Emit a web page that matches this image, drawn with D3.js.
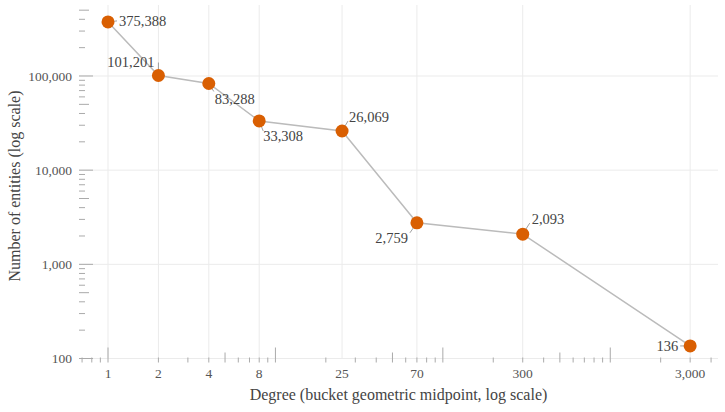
<!DOCTYPE html>
<html>
<head>
<meta charset="utf-8">
<script src="https://cdn.jsdelivr.net/npm/d3@7"></script>
<style>
  html, body { margin: 0; padding: 0; background: #fff; }
  svg { display: block; font-family: "Liberation Serif", "DejaVu Serif", serif; }
</style>
</head>
<body>
<svg id="chart" width="725" height="412"></svg>
<script>
// ---- data ----
const degrees = [1, 2, 4, 8, 25, 70, 300, 3000];
const entityCounts = [375388, 101201, 83288, 33308, 26069, 2759, 2093, 136];
const xTickValues = [1, 2, 4, 8, 25, 70, 300, 3000];
const yTickValues = [100, 1000, 10000, 100000];

// label placement hints (style): leader end offset, label offset, anchor
const labelStyle = [
  { lx: 9,  ly: -1,  dx: 11, dy: -1,  anchor: "start" },
  { lx: 0,  ly: -13, dx: -4, dy: -14, anchor: "end" },
  { lx: 5,  ly: 8,   dx: 6,  dy: 15,  anchor: "start" },
  { lx: 4,  ly: 10,  dx: 4,  dy: 15,  anchor: "start" },
  { lx: 6,  ly: -10, dx: 7,  dy: -14, anchor: "start" },
  { lx: -7, ly: 10,  dx: -9, dy: 15,  anchor: "end" },
  { lx: 7,  ly: -11, dx: 9,  dy: -15, anchor: "start" },
  { lx: -10, ly: 0,  dx: -12, dy: 0,  anchor: "end" }
];

(function () {
const svg = d3.select("#chart");
const pLeft = 79, pRight = 718, pTop = 5, pBottom = 358.5;

const x = d3.scaleLog().domain([0.671, 4400]).range([pLeft, pRight]);
const y = d3.scaleLog().domain([100, 567500]).range([pBottom, pTop]);
const fmt = d3.format(",");

// gridlines
const grid = svg.append("g");
grid.selectAll("line.v").data(xTickValues).join("line")
  .attr("x1", d => x(d)).attr("x2", d => x(d))
  .attr("y1", pTop).attr("y2", pBottom)
  .attr("stroke", "#ebebeb").attr("stroke-width", 1);
grid.selectAll("line.h").data(yTickValues).join("line")
  .attr("x1", pLeft).attr("x2", pRight)
  .attr("y1", d => y(d)).attr("y2", d => y(d))
  .attr("stroke", "#ebebeb").attr("stroke-width", 1);

// x log-rug ticks
const xMinor = [];
for (let e = -1; e <= 3; e++) for (let k = 1; k <= 9; k++) {
  const v = k * Math.pow(10, e);
  if (v >= 0.7 && v <= 4000) xMinor.push({ v, k });
}
const tickLen = k => k === 1 ? 15 : (k === 5 ? 10 : 5);
svg.append("g").selectAll("line").data(xMinor).join("line")
  .attr("x1", d => x(d.v)).attr("x2", d => x(d.v))
  .attr("y1", pBottom + 4).attr("y2", d => pBottom + 4 - tickLen(d.k))
  .attr("stroke", "#aaa").attr("stroke-width", 1);

// y log-rug ticks
const yMinor = [];
for (let e = 2; e <= 5; e++) for (let k = 1; k <= 9; k++) {
  const v = k * Math.pow(10, e);
  if (v <= 500000) yMinor.push({ v, k });
}
const yTickLen = k => k === 1 ? 14 : (k === 5 ? 10 : 6);
svg.append("g").selectAll("line").data(yMinor).join("line")
  .attr("x1", pLeft).attr("x2", d => pLeft + yTickLen(d.k))
  .attr("y1", d => y(d.v)).attr("y2", d => y(d.v))
  .attr("stroke", "#aaa").attr("stroke-width", 1);

// tick labels
svg.append("g").selectAll("text").data(xTickValues).join("text")
  .attr("x", d => x(d)).attr("y", 378)
  .attr("text-anchor", "middle").attr("font-size", 13.5).attr("fill", "#555")
  .text(d => fmt(d));
svg.append("g").selectAll("text").data(yTickValues).join("text")
  .attr("x", 72).attr("y", d => y(d)).attr("dy", "0.35em")
  .attr("text-anchor", "end").attr("font-size", 13.5).attr("fill", "#555")
  .text(d => fmt(d));

// axis titles
svg.append("text").attr("x", (pLeft + pRight) / 2).attr("y", 400)
  .attr("text-anchor", "middle").attr("font-size", 16).attr("fill", "#444")
  .text("Degree (bucket geometric midpoint, log scale)");
svg.append("text")
  .attr("transform", `translate(19.5,186) rotate(-90)`)
  .attr("text-anchor", "middle").attr("font-size", 16).attr("fill", "#444")
  .text("Number of entities (log scale)");

const pts = degrees.map((d, i) => ({ d, v: entityCounts[i], s: labelStyle[i] }));

// line
svg.append("path").datum(pts)
  .attr("d", d3.line().x(p => x(p.d)).y(p => y(p.v)))
  .attr("fill", "none").attr("stroke", "#bbb").attr("stroke-width", 1.5);

// leaders
svg.append("g").selectAll("line").data(pts).join("line")
  .attr("x1", p => x(p.d)).attr("y1", p => y(p.v))
  .attr("x2", p => x(p.d) + p.s.lx).attr("y2", p => y(p.v) + p.s.ly)
  .attr("stroke", "#888").attr("stroke-width", 0.8);

// points
svg.append("g").selectAll("circle").data(pts).join("circle")
  .attr("cx", p => x(p.d)).attr("cy", p => y(p.v)).attr("r", 6.5)
  .attr("fill", "#D95F02");

// value labels
svg.append("g").selectAll("text").data(pts).join("text")
  .attr("x", p => x(p.d) + p.s.dx).attr("y", p => y(p.v) + p.s.dy)
  .attr("dy", "0.35em").attr("text-anchor", p => p.s.anchor)
  .attr("font-size", 14.5).attr("fill", "#444")
  .text(p => fmt(p.v));
})();
</script>
</body>
</html>
